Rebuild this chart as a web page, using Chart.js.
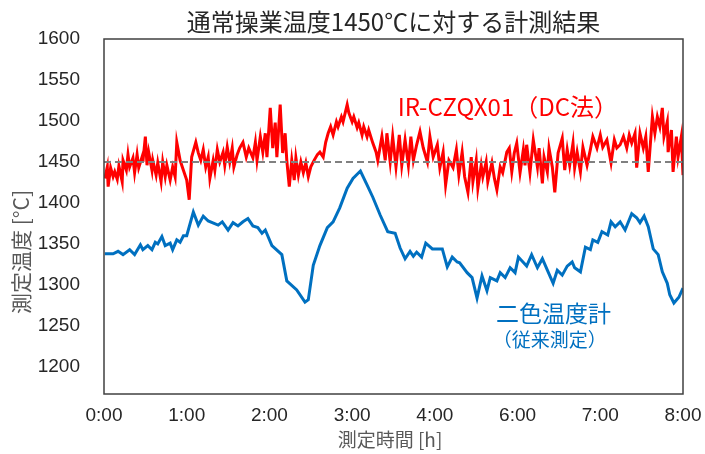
<!DOCTYPE html>
<html>
<head>
<meta charset="utf-8">
<script src="https://cdn.jsdelivr.net/npm/chart.js@4"></script>
<style>
    html, body { margin: 0; padding: 0; background: #fff; }
</style>
</head>
<body>
<canvas id="chart" width="705" height="454"></canvas>
<script>
// x axis labels (note: the source chart skips 5:00)
const xLabels = ["0:00", "1:00", "2:00", "3:00", "4:00", "6:00", "7:00", "8:00"];
const yTicks = [1200, 1250, 1300, 1350, 1400, 1450, 1500, 1550, 1600];
const targetTemp = 1450;

// IR-CZQX01 (DC method), position on the time axis + temperature
const dcTime = [
    0.01, 0.04, 0.05, 0.08, 0.11, 0.13, 0.16, 0.18, 0.22, 0.23,
    0.27, 0.29, 0.31, 0.35, 0.37, 0.40, 0.42, 0.46, 0.47, 0.50,
    0.52, 0.54, 0.58, 0.59, 0.63, 0.65, 0.69, 0.71, 0.74, 0.76,
    0.80, 0.83, 0.86, 0.88, 0.92, 0.96, 1.00, 1.03, 1.06, 1.11,
    1.14, 1.17, 1.20, 1.23, 1.26, 1.28, 1.32, 1.34, 1.37, 1.40,
    1.44, 1.46, 1.49, 1.52, 1.55, 1.57, 1.61, 1.64, 1.68, 1.72,
    1.75, 1.80, 1.83, 1.85, 1.89, 1.92, 1.95, 1.97, 2.01, 2.04,
    2.07, 2.09, 2.13, 2.16, 2.19, 2.21, 2.24, 2.27, 2.30, 2.32,
    2.35, 2.38, 2.41, 2.44, 2.47, 2.50, 2.54, 2.58, 2.61, 2.65,
    2.68, 2.71, 2.74, 2.77, 2.81, 2.83, 2.87, 2.89, 2.94, 2.96,
    3.00, 3.02, 3.06, 3.08, 3.12, 3.14, 3.18, 3.20, 3.25, 3.29,
    3.31, 3.36, 3.40, 3.42, 3.46, 3.49, 3.53, 3.57, 3.60, 3.64,
    3.68, 3.71, 3.74, 3.78, 3.82, 3.86, 3.91, 3.94, 3.98, 4.03,
    4.06, 4.10, 4.13, 4.17, 4.22, 4.26, 4.29, 4.33, 4.36, 4.40,
    4.44, 4.46, 4.50, 4.52, 4.56, 4.58, 4.62, 4.64, 4.69, 4.72,
    4.75, 4.79, 4.82, 4.87, 4.90, 4.93, 4.96, 4.99, 5.03, 5.07,
    5.09, 5.11, 5.15, 5.19, 5.24, 5.26, 5.30, 5.32, 5.36, 5.38,
    5.42, 5.45, 5.49, 5.54, 5.57, 5.60, 5.63, 5.67, 5.69, 5.72,
    5.76, 5.79, 5.84, 5.88, 5.91, 5.96, 6.00, 6.03, 6.08, 6.13,
    6.17, 6.20, 6.24, 6.28, 6.32, 6.35, 6.38, 6.42, 6.44, 6.48,
    6.52, 6.55, 6.58, 6.63, 6.66, 6.69, 6.72, 6.75, 6.77, 6.81,
    6.82, 6.86, 6.88, 6.92, 6.94, 6.98, 7.00
];
const dcTemp = [
    1430, 1444, 1420, 1443, 1432, 1438, 1429, 1445, 1426, 1452,
    1440, 1459, 1444, 1455, 1437, 1459, 1443, 1456, 1450, 1481,
    1446, 1462, 1440, 1452, 1434, 1449, 1426, 1450, 1432, 1446,
    1428, 1444, 1432, 1474, 1452, 1440, 1428, 1404, 1456, 1474,
    1461, 1452, 1465, 1444, 1456, 1430, 1452, 1440, 1465, 1450,
    1462, 1446, 1468, 1450, 1467, 1444, 1459, 1467, 1474, 1456,
    1467, 1455, 1474, 1452, 1481, 1462, 1485, 1456, 1516, 1467,
    1498, 1456, 1520, 1461, 1485, 1452, 1420, 1452, 1428, 1455,
    1434, 1450, 1437, 1449, 1432, 1444, 1452, 1459, 1462, 1456,
    1474, 1485, 1493, 1483, 1499, 1493, 1505, 1499, 1520, 1510,
    1499, 1505, 1492, 1498, 1483, 1493, 1481, 1489, 1473, 1462,
    1452, 1481, 1452, 1485, 1450, 1481, 1444, 1483, 1446, 1477,
    1446, 1481, 1452, 1471, 1487, 1467, 1450, 1481, 1456, 1471,
    1443, 1462, 1422, 1452, 1443, 1465, 1434, 1462, 1432, 1413,
    1456, 1426, 1452, 1418, 1446, 1432, 1450, 1426, 1449, 1430,
    1416, 1444, 1437, 1462, 1467, 1438, 1461, 1473, 1437, 1465,
    1446, 1471, 1437, 1477, 1444, 1467, 1424, 1456, 1438, 1467,
    1444, 1413, 1461, 1479, 1440, 1465, 1446, 1473, 1443, 1462,
    1438, 1468, 1446, 1465, 1481, 1467, 1483, 1468, 1477, 1449,
    1477, 1467, 1471, 1481, 1467, 1483, 1473, 1485, 1443, 1485,
    1467, 1481, 1438, 1505, 1485, 1505, 1493, 1516, 1481, 1499,
    1462, 1489, 1438, 1481, 1456, 1481, 1434
];

// two-colour pyrometer (conventional)
const ratioTime = [
    0.01, 0.11, 0.17, 0.23, 0.31, 0.37, 0.44, 0.47, 0.53, 0.58,
    0.62, 0.65, 0.70, 0.74, 0.80, 0.83, 0.88, 0.92, 0.96, 1.00,
    1.08, 1.14, 1.20, 1.26, 1.38, 1.43, 1.50, 1.56, 1.62, 1.68,
    1.74, 1.80, 1.86, 1.91, 1.95, 2.03, 2.15, 2.21, 2.33, 2.43,
    2.47, 2.53, 2.61, 2.70, 2.77, 2.85, 2.94, 3.01, 3.10, 3.18,
    3.25, 3.34, 3.43, 3.52, 3.58, 3.64, 3.70, 3.74, 3.78, 3.84,
    3.89, 3.97, 4.09, 4.15, 4.21, 4.27, 4.30, 4.39, 4.45, 4.51,
    4.57, 4.63, 4.67, 4.75, 4.79, 4.85, 4.91, 4.97, 5.01, 5.11,
    5.17, 5.24, 5.30, 5.36, 5.43, 5.48, 5.54, 5.60, 5.66, 5.69,
    5.76, 5.82, 5.88, 5.91, 5.97, 6.02, 6.09, 6.13, 6.18, 6.24,
    6.30, 6.38, 6.44, 6.48, 6.53, 6.58, 6.64, 6.70, 6.75, 6.81,
    6.84, 6.89, 6.95, 7.00
];
const ratioTemp = [
    1338, 1338, 1341, 1337, 1343, 1337, 1349, 1343, 1348, 1343,
    1352, 1350, 1359, 1348, 1351, 1343, 1355, 1352, 1360, 1360,
    1389, 1373, 1384, 1378, 1373, 1377, 1367, 1376, 1372, 1377,
    1381, 1372, 1370, 1363, 1367, 1348, 1337, 1305, 1294, 1279,
    1282, 1324, 1348, 1370, 1377, 1394, 1418, 1430, 1439, 1422,
    1407, 1385, 1365, 1363, 1345, 1332, 1341, 1335, 1340, 1334,
    1351, 1344, 1344, 1322, 1334, 1328, 1327, 1315, 1309, 1284,
    1311, 1293, 1309, 1305, 1315, 1309, 1321, 1315, 1334, 1323,
    1337, 1321, 1332, 1318, 1302, 1318, 1312, 1323, 1328, 1321,
    1316, 1346, 1343, 1355, 1352, 1365, 1361, 1377, 1371, 1377,
    1367, 1387, 1382, 1376, 1384, 1371, 1344, 1337, 1316, 1302,
    1288, 1278, 1285, 1296
];

const jpFont = "'Noto Sans CJK JP', 'Noto Sans', sans-serif";
const numFont = "'Liberation Sans', Arial, sans-serif";

// plot frame, axis titles and the in-plot series notes
const notes = {
    id: "notes",
    afterDatasetsDraw(chart) {
        const {ctx, chartArea: a, scales} = chart;
        ctx.save();
        ctx.strokeStyle = "#404040";
        ctx.lineWidth = 1.5;
        ctx.strokeRect(a.left, a.top, a.right - a.left, a.bottom - a.top);

        ctx.textBaseline = "middle";
        ctx.fillStyle = "#595959";
        ctx.font = "19px " + jpFont;
        ctx.textAlign = "center";
        ctx.fillText("測定時間 [h]", 390, 440);

        ctx.translate(21, 252);
        ctx.rotate(-Math.PI / 2);
        ctx.font = "21px " + jpFont;
        ctx.fillText("測定温度 [°C]", 0, 0);
        ctx.setTransform(1, 0, 0, 1, 0, 0);

        ctx.textAlign = "left";
        ctx.fillStyle = "#ff0000";
        ctx.font = "24px " + jpFont;
        ctx.fillText("IR-CZQX01（DC法）", scales.x.getPixelForValue(3.55), scales.y.getPixelForValue(1517));

        ctx.fillStyle = "#0070c0";
        ctx.font = "23px " + jpFont;
        ctx.fillText("二色温度計", scales.x.getPixelForValue(4.74), scales.y.getPixelForValue(1266));
        ctx.font = "19px " + jpFont;
        ctx.fillText("（従来測定）", scales.x.getPixelForValue(4.70), scales.y.getPixelForValue(1233));
        ctx.restore();
    }
};

new Chart(document.querySelector("#chart"), {
    type: "line",
    data: {
        datasets: [
            {
                label: "1450℃",
                data: [{x: 0, y: targetTemp}, {x: xLabels.length - 1, y: targetTemp}],
                borderColor: "#808080",
                borderWidth: 2,
                borderDash: [7, 4]
            },
            {
                label: "IR-CZQX01(DC法)",
                data: dcTime.map((t, i) => ({x: t, y: dcTemp[i]})),
                borderColor: "#ff0000",
                borderWidth: 3
            },
            {
                label: "二色温度計",
                data: ratioTime.map((t, i) => ({x: t, y: ratioTemp[i]})),
                borderColor: "#0070c0",
                borderWidth: 3
            }
        ]
    },
    options: {
        responsive: false,
        animation: false,
        elements: {point: {radius: 0}, line: {tension: 0}},
        layout: {padding: {left: 0, right: 22, top: 0, bottom: 0}},
        plugins: {
            legend: {display: false},
            tooltip: {enabled: false},
            title: {
                display: true,
                fullSize: false,
                text: "通常操業温度1450℃に対する計測結果",
                color: "#262626",
                font: {family: jpFont, size: 24, weight: "normal", lineHeight: "28px"},
                padding: {top: 8, bottom: 3}
            }
        },
        scales: {
            x: {
                type: "linear",
                min: 0,
                max: xLabels.length - 1,
                grid: {display: false},
                border: {display: false},
                afterBuildTicks: axis => { axis.ticks = xLabels.map((_, i) => ({value: i})); },
                afterFit: axis => { axis.height = 60; },
                ticks: {
                    callback: value => xLabels[value],
                    color: "#262626",
                    font: {family: numFont, size: 19},
                    padding: 2,
                    maxRotation: 0
                }
            },
            y: {
                min: 1167,
                max: 1600,
                grid: {display: false},
                border: {display: false},
                afterBuildTicks: axis => { axis.ticks = yTicks.map(v => ({value: v})); },
                afterFit: axis => { axis.width = 104; },
                ticks: {
                    callback: value => String(value),
                    color: "#262626",
                    font: {family: numFont, size: 19},
                    padding: 16
                }
            }
        }
    },
    plugins: [notes]
});
</script>
</body>
</html>
